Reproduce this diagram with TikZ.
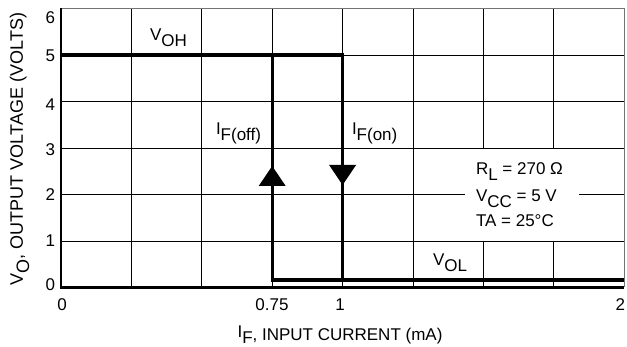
\documentclass[tikz,border=0pt]{standalone}
\usepackage{fontspec}
\setmainfont{Liberation Sans}
\newcommand\lowr[1]{\raisebox{-6pt}{#1}}
\begin{document}
\begin{tikzpicture}[x=1pt,y=-1pt,
  font=\fontsize{17}{20}\selectfont,
  gridline/.style={line width=0.9pt, black},
  frameline/.style={line width=0.9pt, black!55},
  axisline/.style={line width=2.8pt, black},
  curve/.style={line width=3.3pt, black},
  lbl/.style={inner sep=0pt, outer sep=0pt},
  arrowhead/.style={fill=black}]
\useasboundingbox (0,0) rectangle (627,347);
% grid
\foreach \x in {131.4,201.8,272.2,342.6,413} \draw[gridline] (\x,8.5) -- (\x,287.5);
\foreach \x in {483.4,553.8} \draw[gridline] (\x,8.5) -- (\x,148) (\x,241) -- (\x,287.5);
\foreach \y in {241,148,101.5,55} \draw[gridline] (61,\y) -- (624.2,\y);
\draw[gridline] (61,194.5) -- (465,194.5) (579,194.5) -- (624.2,194.5);
\draw[frameline] (61,8.5) -- (624.2,8.5) -- (624.2,287.5);
% axes
\draw[axisline] (61,8) -- (61,287.5) -- (624.2,287.5);
% curve
\draw[curve] (61,55) -- (342.6,55) -- (342.6,280);
\draw[curve] (272.2,55) -- (272.2,280) -- (624.2,280);
\fill[arrowhead] (272.2,166) -- (258.7,186) -- (285.7,186) -- cycle;
\fill[arrowhead] (342.6,185) -- (329.1,165) -- (356.1,165) -- cycle;
% curve labels
\node[lbl, anchor=base west] (voh) at (150,41) {V\lowr{OH}};
\node[lbl, anchor=base west] (ifoff) at (216,135) {I\lowr{F(off)}};
\node[lbl, anchor=base west] (ifon) at (352,135) {I\lowr{F(on)}};
\node[lbl, anchor=base west] (vol) at (433,266) {V\lowr{OL}};
% legend
\node[lbl, anchor=base west] (rl) at (476,175) {R\lowr{L} = 270 Ω};
\node[lbl, anchor=base west] (vcc) at (476,202) {V\lowr{CC} = 5 V};
\node[lbl, anchor=base west] (ta) at (476,227) {TA = 25°C};
% y ticks
\node[lbl, anchor=east] (y6) at (55,18) {6};
\node[lbl, anchor=east] (y5) at (55,55.5) {5};
\node[lbl, anchor=east] (y4) at (55,105) {4};
\node[lbl, anchor=east] (y3) at (55,150) {3};
\node[lbl, anchor=east] (y2) at (55,195) {2};
\node[lbl, anchor=east] (y1) at (55,241) {1};
\node[lbl, anchor=east] (y0) at (55,284.5) {0};
% x ticks
\node[lbl, anchor=north] (x0) at (62,299) {0};
\node[lbl, anchor=north] (x075) at (272,299) {0.75};
\node[lbl, anchor=north] (x1) at (340,299) {1};
\node[lbl, anchor=north east] (x2) at (625,299) {2};
% axis titles
\node[lbl, anchor=base] (xt) at (340,341) {\raisebox{3pt}{I}\raisebox{-3pt}{F}, INPUT CURRENT (mA)};
\node[lbl, anchor=base, rotate=90, font=\fontsize{18}{20}\selectfont] (yt) at (23,149) {V\lowr{O}, OUTPUT VOLTAGE (VOLTS)};
\end{tikzpicture}
\end{document}
